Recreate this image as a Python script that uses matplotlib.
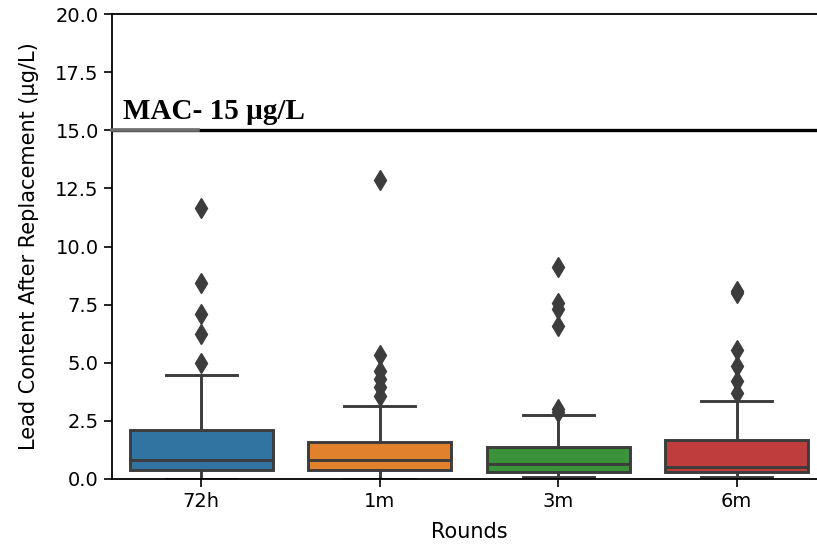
import numpy as np
import matplotlib
matplotlib.use('Agg')
import matplotlib.pyplot as plt

# values (µg/L)
rounds = ['72h', '1m', '3m', '6m']
q1 = [0.39, 0.39, 0.30, 0.30]
medians = [0.82, 0.80, 0.66, 0.52]
q3 = [2.10, 1.59, 1.38, 1.68]
whis_lo = [0.02, 0.02, 0.08, 0.10]
whis_hi = [4.47, 3.14, 2.75, 3.35]
fliers = [
    [11.65, 8.43, 7.10, 6.23, 4.98],
    [12.85, 5.35, 4.65, 4.30, 3.95, 3.55],
    [9.10, 7.55, 7.30, 6.60, 3.00, 2.90],
    [8.10, 8.00, 5.55, 4.85, 4.20, 3.70],
]
mac_limit = 15
box_colors = ['#3274a1', '#e1812c', '#3a923a', '#c03d3e']
gray = '#3c3c3c'

stats = []
for i in range(len(rounds)):
    stats.append({'label': rounds[i], 'q1': q1[i], 'med': medians[i], 'q3': q3[i],
                  'whislo': whis_lo[i], 'whishi': whis_hi[i], 'fliers': fliers[i]})

fig = plt.figure(figsize=(8.17, 5.48), dpi=100)
ax = fig.add_axes([112 / 817, 69 / 548, 714 / 817, 465 / 548])

lw = 2.1
bp = ax.bxp(stats, positions=np.arange(len(rounds)), widths=0.8, patch_artist=True,
            boxprops=dict(edgecolor=gray, linewidth=lw),
            medianprops=dict(color=gray, linewidth=lw),
            whiskerprops=dict(color=gray, linewidth=lw),
            capprops=dict(color=gray, linewidth=lw),
            flierprops=dict(marker='d', markersize=10, markerfacecolor=gray,
                            markeredgecolor=gray))
for patch, c in zip(bp['boxes'], box_colors):
    patch.set_facecolor(c)

ax.set_xlim(-0.5, len(rounds) - 0.5)
ax.set_ylim(0, 20)
ax.set_yticks(np.arange(0, 20.1, 2.5))
ax.set_yticklabels(['%.1f' % v for v in np.arange(0, 20.1, 2.5)])

ax.axhline(mac_limit, color='black', linewidth=2.4, zorder=5)
ax.plot([-0.5, -0.02], [mac_limit, mac_limit], color='#6e6e6e', linewidth=2.6,
        zorder=6, clip_on=False)
ax.text(-0.44, 15.5, 'MAC- 15 µg/L', fontsize=21, fontweight='bold',
        family='Liberation Serif', va='baseline', ha='left')

ax.set_xlabel('Rounds', fontsize=15, labelpad=8)
ax.set_ylabel('Lead Content After Replacement (µg/L)', fontsize=15, labelpad=12)
ax.tick_params(axis='both', labelsize=14, length=6, width=1.2)
for s in ax.spines.values():
    s.set_linewidth(1.3)

fig.savefig('out.png', dpi=100)
